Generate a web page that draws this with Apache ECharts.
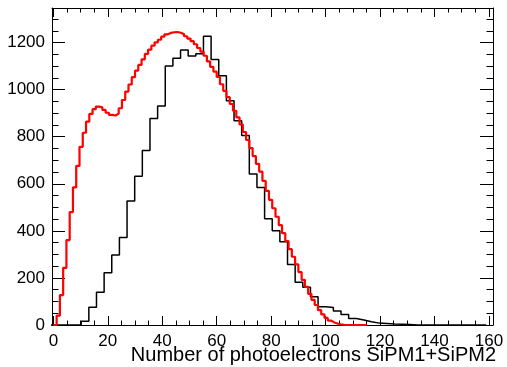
<!DOCTYPE html>
<html>
<head>
<meta charset="utf-8">
<script src="https://cdn.jsdelivr.net/npm/echarts@6/dist/echarts.min.js"></script>
<style>
html,body{margin:0;padding:0;background:#fff;}
#chart{width:507px;height:367px;}
</style>
</head>
<body>
<div id="chart"></div>
<script>
// ---- data ----
// red histogram: 96 bins, starting at 0, width 1.2
var redBinStart = 0;
var redBinWidth = 1.2;
var redCounts = [
  0, 40, 127, 243, 361, 480, 585, 676, 757, 817,
  864, 897, 917, 928, 925, 914, 902, 893, 890, 898,
  921, 956, 992, 1022, 1053, 1081, 1105, 1129, 1152, 1170,
  1187, 1201, 1212, 1225, 1235, 1241, 1244, 1245, 1242, 1236,
  1227, 1217, 1206, 1193, 1177, 1162, 1144, 1120, 1097, 1077,
  1054, 1023, 995, 968, 939, 910, 882, 852, 820, 786,
  752, 718, 685, 652, 612, 570, 532, 496, 460, 424,
  390, 357, 322, 290, 258, 225, 192, 162, 132, 107,
  85, 63, 45, 30, 19, 11, 6, 3, 1, 0,
  0, 0, 0, 0, 0, 0
];
// black histogram: 57 bins, starting at -1, width 160/57
var blackBinStart = -1;
var blackBinWidth = 160 / 57;
var blackCounts = [
  0, 0, 0, 0, 16, 75, 139, 222, 297, 372,
  527, 632, 741, 877, 931, 1101, 1133, 1169, 1143, 1153,
  1227, 1128, 1059, 953, 868, 805, 642, 584, 451, 401,
  354, 257, 182, 160, 120, 78, 74, 60, 45, 28,
  21, 14, 8, 6, 4, 3, 2, 0, 0, 0,
  0, 0, 0, 0, 0, 0, 0
];
var xMajorTicks = [0, 20, 40, 60, 80, 100, 120, 140, 160];
var xMinorTicks = [];
for (var i = 0; i <= 160; i += 5) xMinorTicks.push(i);
var yMajorTicks = [0, 200, 400, 600, 800, 1000, 1200];
var yMinorTicks = [];
for (var j = 0; j <= 1300; j += 50) yMinorTicks.push(j);
var xTitle = 'Number of photoelectrons SiPM1+SiPM2';
var xRange = [-0.5, 161.5];
var yRange = [0, 1347];

function histPoints(start, width, counts) {
  var pts = [];
  pts.push([start, 0]);
  for (var k = 0; k < counts.length; k++) {
    pts.push([start + k * width, counts[k]]);
  }
  pts.push([start + counts.length * width, counts[counts.length - 1]]);
  pts.push([start + counts.length * width, 0]);
  return pts;
}

var FONT = 'Liberation Sans, Arial, Helvetica, sans-serif';
var gridBox = {left: 52, top: 8, width: 441, height: 317};

function plain(v) { return String(Math.round(v)); }

function xAx(grid, pos, ticks, len, labels, line) {
  return {
    type: 'value', gridIndex: grid, position: pos,
    min: xRange[0], max: xRange[1],
    axisLine: {show: line, onZero: false, lineStyle: {color: '#000', width: 1}},
    axisTick: {show: true, inside: true, length: len, customValues: ticks, lineStyle: {color: '#000', width: 1}},
    axisLabel: labels ? {show: true, customValues: ticks, formatter: plain, color: '#000', fontSize: 17, fontFamily: FONT, margin: 8} : {show: false},
    splitLine: {show: false}
  };
}
function yAx(grid, pos, ticks, len, labels, line) {
  return {
    type: 'value', gridIndex: grid, position: pos,
    min: yRange[0], max: yRange[1],
    axisLine: {show: line, onZero: false, lineStyle: {color: '#000', width: 1}},
    axisTick: {show: true, inside: true, length: len, customValues: ticks, lineStyle: {color: '#000', width: 1}},
    axisLabel: labels ? {show: true, customValues: ticks, formatter: plain, color: '#000', fontSize: 17, fontFamily: FONT, margin: 7} : {show: false},
    splitLine: {show: false}
  };
}

var chart = echarts.init(document.getElementById('chart'), null, {renderer: 'canvas'});
chart.setOption({
  animation: false,
  backgroundColor: '#fff',
  grid: [
    Object.assign({}, gridBox),
    Object.assign({}, gridBox)
  ],
  xAxis: [
    xAx(0, 'bottom', xMajorTicks, 9, true, true),
    xAx(0, 'top', xMajorTicks, 9, false, true),
    xAx(1, 'bottom', xMinorTicks, 4.5, false, false),
    xAx(1, 'top', xMinorTicks, 4.5, false, false)
  ],
  yAxis: [
    yAx(0, 'left', yMajorTicks, 13, true, true),
    yAx(0, 'right', yMajorTicks, 13, false, true),
    yAx(1, 'left', yMinorTicks, 6.5, false, false),
    yAx(1, 'right', yMinorTicks, 6.5, false, false)
  ],
  series: [
    {
      type: 'line', xAxisIndex: 0, yAxisIndex: 0, step: 'end',
      showSymbol: false, symbol: 'none', clip: true,
      lineStyle: {color: '#000', width: 1.5},
      data: histPoints(blackBinStart, blackBinWidth, blackCounts)
    },
    {
      type: 'line', xAxisIndex: 0, yAxisIndex: 0, step: 'end',
      showSymbol: false, symbol: 'none', clip: true,
      lineStyle: {color: '#ff0000', width: 2.2},
      data: histPoints(redBinStart, redBinWidth, redCounts)
    }
  ],
  graphic: [
    {
      type: 'text', x: 496, y: 355,
      style: {text: xTitle, fill: '#000', font: '20px ' + FONT, textAlign: 'right', textVerticalAlign: 'middle'}
    }
  ]
});
</script>
</body>
</html>
